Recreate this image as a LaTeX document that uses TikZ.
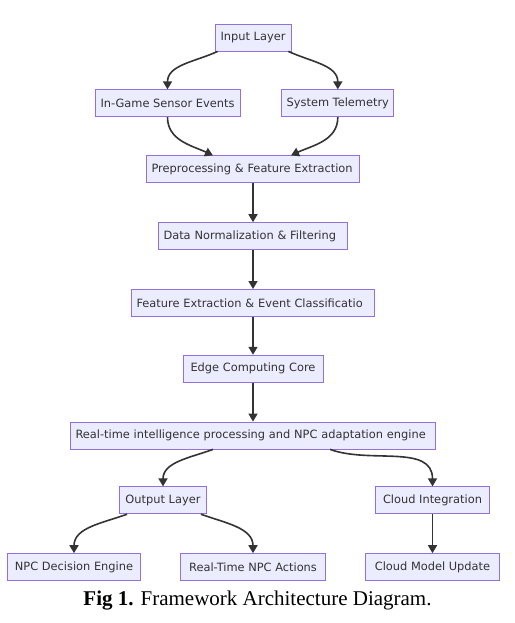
\documentclass[tikz,border=0pt]{standalone}
\usepackage{fontspec}
\setmainfont{Liberation Serif}
\newfontfamily\boxfont{DejaVu Sans}
\usepackage{tikz}
\usetikzlibrary{arrows.meta, positioning}
\definecolor{boxfill}{HTML}{ECECFF}
\definecolor{boxline}{HTML}{9370DB}
\definecolor{boxtext}{HTML}{333333}

\begin{document}
\begin{tikzpicture}[
    x=1pt, y=-1pt,
    node distance=39pt and 41pt,
    stage/.style={draw=boxline, fill=boxfill, line width=0.8pt, minimum height=27pt, inner xsep=5pt, inner ysep=0pt, text=boxtext, font=\boxfont\fontsize{11.4}{13}\selectfont},
    cut/.style={text width=#1, align=left},
    arrow/.style={-{Triangle[length=8pt,width=9pt]}, line width=1.6pt, draw=boxtext}
]
    \useasboundingbox (0,0) rectangle (514,623);

    % Input side
    \node[stage, minimum width=76pt] (input) at (253,37.5) {Input Layer};
    \node[stage, minimum width=145pt, below=38pt of input, xshift=-85.5pt] (sensor) {In-Game Sensor Events};
    \node[stage, minimum width=112pt, inner xsep=4pt, right=41pt of sensor] (telemetry) {System Telemetry};
    \node[stage, cut=203pt, below=104pt of input] (preproc) {Preprocessing \& Feature Extraction};

    % Processing chain
    \node[stage, cut=179pt, below=of preproc] (normalize) {Data Normalization \& Filtering};
    \node[stage, cut=233pt, below=of normalize] (classify) {Feature Extraction \& Event Classificatio};
    \node[stage, minimum width=140pt, below=38pt of classify] (edge) {Edge Computing Core};
    \node[stage, cut=355pt, below=of edge] (engine) {Real-time intelligence processing and NPC adaptation engine};

    % Output side
    \node[stage, minimum width=87pt, below=37pt of engine, xshift=-90pt] (output) {Output Layer};
    \node[stage, minimum width=114pt, below=37pt of engine, xshift=179.5pt] (cloud) {Cloud Integration};
    \node[stage, minimum width=133pt, below=of output, xshift=-89pt] (decision) {NPC Decision Engine};
    \node[stage, minimum width=145pt, below=of output, xshift=90pt] (actions) {Real-Time NPC Actions};
    \node[stage, minimum width=134pt, below=of cloud] (update) {Cloud Model Update};

    % Caption
    \node[font=\fontsize{21}{24}\selectfont, below=6pt of actions, xshift=4.5pt] (caption) {\textbf{Fig 1.} Framework Architecture Diagram.};

    % Connectors
    \draw[arrow] ([xshift=3pt]input.south west) to[out=-155, in=90] (sensor.north);
    \draw[arrow] ([xshift=-3pt]input.south east) to[out=-25, in=90] (telemetry.north);
    \draw[arrow] (sensor.south) to[out=-90, in=155] ([xshift=-40pt]preproc.north);
    \draw[arrow] (telemetry.south) to[out=-90, in=25] ([xshift=38pt]preproc.north);
    \draw[arrow] (preproc) -- (normalize);
    \draw[arrow] (normalize) -- (classify);
    \draw[arrow] (classify) -- (edge);
    \draw[arrow] (edge) -- (engine);
    \draw[arrow] ([xshift=-40pt]engine.south) to[out=-160, in=90] (output.north);
    \draw[arrow] ([xshift=77pt]engine.south) to[out=-20, in=90] (cloud.north);
    \draw[arrow] (cloud) -- (update);
    \draw[arrow] ([xshift=8pt]output.south west) to[out=-160, in=90] (decision.north);
    \draw[arrow] ([xshift=-6pt]output.south east) to[out=-20, in=90] (actions.north);
\end{tikzpicture}
\end{document}
